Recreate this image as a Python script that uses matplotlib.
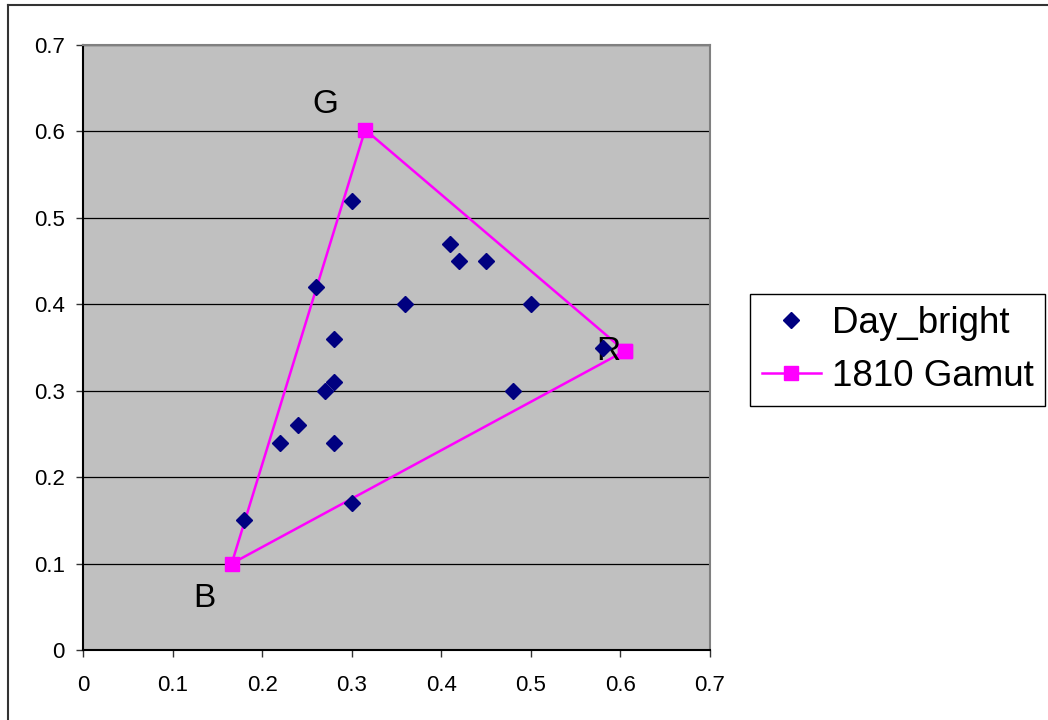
import matplotlib
matplotlib.use("Agg")
import matplotlib.pyplot as plt
from matplotlib.lines import Line2D

plt.rcParams['font.family'] = ['Liberation Sans', 'DejaVu Sans']

# Day_bright measurements
day_x = [0.30, 0.41, 0.42, 0.45, 0.26, 0.36, 0.50, 0.28, 0.28, 0.27, 0.48,
         0.24, 0.22, 0.28, 0.30, 0.18, 0.58]
day_y = [0.52, 0.47, 0.45, 0.45, 0.42, 0.40, 0.40, 0.36, 0.31, 0.30, 0.30,
         0.26, 0.24, 0.24, 0.17, 0.15, 0.35]

# 1810 gamut triangle (R, G, B, back to R)
gamut_x = [0.605, 0.315, 0.166, 0.605]
gamut_y = [0.346, 0.602, 0.100, 0.346]

corner_names = ['G', 'B', 'R']
corner_x = [0.271, 0.136, 0.586]
corner_y = [0.631, 0.060, 0.345]

ticks = [0, 0.1, 0.2, 0.3, 0.4, 0.5, 0.6, 0.7]
tick_labels = ['0', '0.1', '0.2', '0.3', '0.4', '0.5', '0.6', '0.7']

fig = plt.figure(figsize=(10.48, 7.2), dpi=100)
ax = fig.add_axes([83 / 1048, 70 / 720, 627 / 1048, 605 / 720])
ax.set_facecolor('#C0C0C0')

ax.plot(gamut_x, gamut_y, color='#FF00FF', lw=1.8, marker='s', ms=10.5,
        mec='#FF00FF', mfc='#FF00FF', zorder=3)
ax.plot(day_x, day_y, ls='none', marker='D', ms=8, color='#000080', zorder=4)

for name, tx, ty in zip(corner_names, corner_x, corner_y):
    ax.text(tx, ty, name, fontsize=24, ha='center', va='center', zorder=3.5)

ax.set_xlim(0, 0.7)
ax.set_ylim(0, 0.7)
ax.set_xticks(ticks)
ax.set_xticklabels(tick_labels)
ax.set_yticks(ticks)
ax.set_yticklabels(tick_labels)
ax.tick_params(direction='out', length=5, width=1, color='#333333',
               labelsize=16, pad=8)
ax.tick_params(axis='x', pad=13)
ax.yaxis.grid(True, color='black', lw=0.9)
ax.set_axisbelow(True)

ax.spines['left'].set_color('black')
ax.spines['bottom'].set_color('black')
ax.spines['top'].set_color('#808080')
ax.spines['right'].set_color('#808080')
for s in ax.spines.values():
    s.set_linewidth(1.5)

handles = [
    Line2D([], [], ls='none', marker='D', ms=8, color='#000080'),
    Line2D([], [], color='#FF00FF', lw=1.8, marker='s', ms=9.5),
]
leg = fig.legend(handles, ['Day_bright', '1810 Gamut'], loc='upper left',
                 bbox_to_anchor=(750 / 1048, 1 - 294 / 720),
                 borderaxespad=0, fontsize=26.5, fancybox=False,
                 edgecolor='black', framealpha=1, handlelength=1.6,
                 handletextpad=0.3, borderpad=0.32, labelspacing=0.5,
                 handleheight=0.7)
leg.get_frame().set_linewidth(1)

# chart area border
fig.add_artist(Line2D([8 / 1048, 8 / 1048], [1 - 5 / 720, -0.1],
                      transform=fig.transFigure, color='#333333', lw=1.5))
fig.add_artist(Line2D([8 / 1048, 1.1], [1 - 5 / 720, 1 - 5 / 720],
                      transform=fig.transFigure, color='#333333', lw=1.5))

fig.savefig('out.png', dpi=100)
